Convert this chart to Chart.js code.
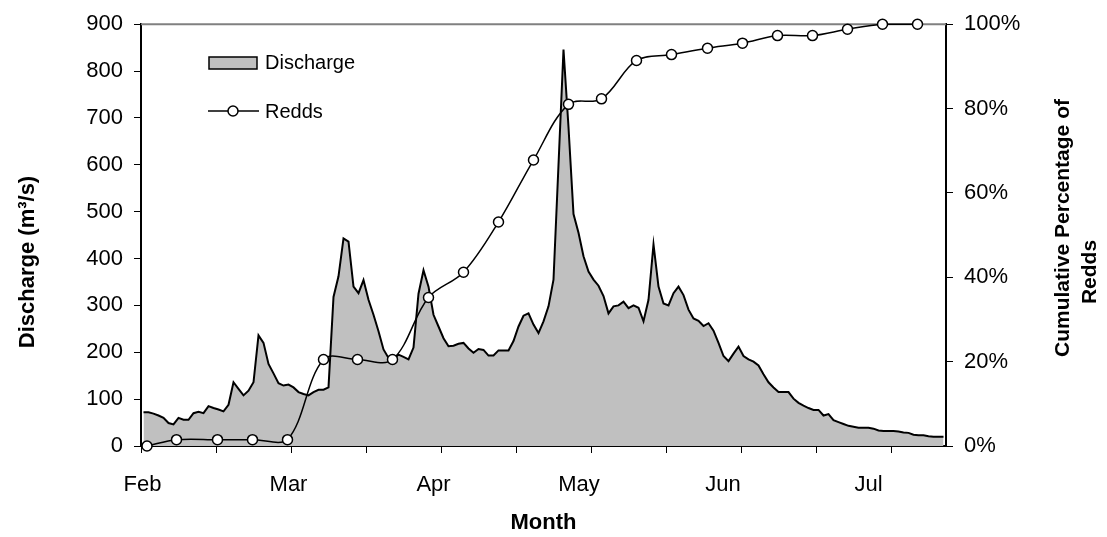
<!DOCTYPE html>
<html>
<head>
<meta charset="utf-8">
<script src="https://cdn.jsdelivr.net/npm/chart.js@4.4.1/dist/chart.umd.min.js"></script>
<style>
  html, body { margin: 0; padding: 0; background: #fff; }
</style>
</head>
<body>
<canvas id="chart" width="1107" height="537"></canvas>
<script>
// month labels and where they sit (days after 1 Feb)
const monthLabels = ["Feb", "Mar", "Apr", "May", "Jun", "Jul"];
const monthLabelDays = [0.3, 29.5, 58.5, 87.6, 116.4, 145.5];

// daily discharge (m3/s), first value on day 0.5
const dischargeStartDay = 0.5;
const dischargeValues = [
    72, 72, 69, 65, 60, 49, 46, 60, 56, 56,
    70, 73, 70, 85, 81, 78, 74, 88, 136, 122,
    108, 118, 136, 236, 220, 175, 155, 134, 129, 131,
    125, 115, 111, 108, 115, 120, 120, 125, 318, 362,
    443, 436, 340, 326, 354, 312, 280, 245, 206, 188,
    185, 195, 190, 185, 210, 325, 375, 340, 280, 255,
    230, 213, 214, 218, 220, 208, 199, 207, 205, 193,
    193, 204, 204, 204, 224, 255, 278, 283, 259, 241,
    266, 298, 355, 600, 846, 680, 495, 455, 405, 372,
    355, 342, 320, 283, 298, 300, 308, 294, 300, 295,
    266, 312, 430, 340, 304, 300, 326, 340, 322, 291,
    272, 267, 256, 262, 246, 220, 192, 181, 197, 212,
    192, 185, 180, 172, 153, 136, 125, 115, 115, 115,
    101, 92, 86, 81, 77, 77, 65, 68, 55, 51,
    47, 43, 41, 39, 39, 39, 37, 33, 32, 32,
    32, 31, 29, 28, 24, 23, 23, 21, 20, 20, 20
];

// weekly redd surveys: day and cumulative percentage
const reddDays = [1.2, 7.1, 15.3, 22.3, 29.3, 36.5, 43.3, 50.3, 57.5, 64.5, 71.5, 78.5,
    85.5, 92.1, 99.1, 106.1, 113.3, 120.3, 127.3, 134.3, 141.3, 148.3, 155.3];
const reddPercent = [0, 1.5, 1.5, 1.5, 1.5, 20.5, 20.5, 20.5, 35.2, 41.2, 53.1, 67.8,
    81.0, 82.3, 91.4, 92.8, 94.3, 95.5, 97.3, 97.3, 98.8, 100, 100];

const dischargeTicks = [0, 100, 200, 300, 400, 500, 600, 700, 800, 900];
const percentTicks = [0, 20, 40, 60, 80, 100];

const FONT = "'Liberation Sans', Arial, sans-serif";
Chart.defaults.font.family = FONT;
Chart.defaults.color = "#000";

const dischargeData = dischargeValues.map((v, i) => ({ x: dischargeStartDay + i, y: v }));
const reddData = reddDays.map((d, i) => ({ x: d, y: reddPercent[i] }));

// legend, frame top line and the two vertical titles
const decorations = {
    id: "decorations",
    beforeDatasetsDraw(chart) {
        const { ctx, chartArea } = chart;
        ctx.save();
        ctx.strokeStyle = "#808080";
        ctx.lineWidth = 2;
        ctx.beginPath();
        ctx.moveTo(chartArea.left, chartArea.top);
        ctx.lineTo(chartArea.right, chartArea.top);
        ctx.stroke();
        ctx.restore();
    },
    afterDraw(chart) {
        const { ctx, chartArea } = chart;
        const lx = chartArea.left + 68;
        ctx.save();

        // Discharge swatch
        ctx.fillStyle = "#C0C0C0";
        ctx.fillRect(lx, 57, 48, 12);
        ctx.strokeStyle = "#000";
        ctx.lineWidth = 1.5;
        ctx.strokeRect(lx, 57, 48, 12);

        // Redds swatch
        ctx.beginPath();
        ctx.moveTo(lx - 1, 111);
        ctx.lineTo(lx + 50, 111);
        ctx.stroke();
        ctx.beginPath();
        ctx.arc(lx + 24, 111, 5, 0, Math.PI * 2);
        ctx.fillStyle = "#fff";
        ctx.fill();
        ctx.stroke();

        ctx.fillStyle = "#000";
        ctx.font = "20px " + FONT;
        ctx.textBaseline = "middle";
        ctx.textAlign = "left";
        ctx.fillText("Discharge", lx + 56, 63);
        ctx.fillText("Redds", lx + 56, 112);

        // left title
        ctx.font = "bold 22px " + FONT;
        ctx.textAlign = "center";
        ctx.save();
        ctx.translate(28, 262);
        ctx.rotate(-Math.PI / 2);
        ctx.fillText("Discharge (m³/s)", 0, 0);
        ctx.restore();

        // right title
        ctx.font = "bold 21px " + FONT;
        ctx.save();
        ctx.translate(1063, 228);
        ctx.rotate(-Math.PI / 2);
        ctx.fillText("Cumulative Percentage of", 0, 0);
        ctx.restore();
        ctx.save();
        ctx.translate(1090, 272);
        ctx.rotate(-Math.PI / 2);
        ctx.fillText("Redds", 0, 0);
        ctx.restore();

        ctx.restore();
    }
};

new Chart(document.getElementById("chart"), {
    type: "line",
    data: {
        datasets: [
            {
                label: "Redds",
                data: reddData,
                yAxisID: "y1",
                xAxisID: "x",
                order: 0,
                borderColor: "#000",
                borderWidth: 1.5,
                tension: 0.35,
                fill: false,
                clip: false,
                pointRadius: 5,
                pointBackgroundColor: "#fff",
                pointBorderColor: "#000",
                pointBorderWidth: 1.5
            },
            {
                label: "Discharge",
                data: dischargeData,
                yAxisID: "y",
                xAxisID: "x",
                order: 1,
                borderColor: "#000",
                borderWidth: 2,
                backgroundColor: "#C0C0C0",
                fill: "origin",
                tension: 0,
                pointRadius: 0
            }
        ]
    },
    options: {
        responsive: false,
        animation: false,
        layout: { padding: { top: 19, left: 0, right: 0, bottom: 0 } },
        plugins: {
            legend: { display: false },
            tooltip: { enabled: false }
        },
        scales: {
            x: {
                type: "linear",
                position: "bottom",
                min: 0,
                max: 161,
                ticks: { display: false, stepSize: 15, includeBounds: false },
                grid: { drawOnChartArea: false, drawTicks: true, tickLength: 7, tickColor: "#000", lineWidth: 1 },
                border: { display: true, color: "#000", width: 2 },
                afterFit: s => { s.height = 7; }
            },
            x2: {
                type: "linear",
                position: "bottom",
                min: 0,
                max: 161,
                grid: { display: false, drawTicks: false },
                border: { display: false },
                afterBuildTicks: s => { s.ticks = monthLabelDays.map(v => ({ value: v })); },
                ticks: {
                    autoSkip: false,
                    maxRotation: 0,
                    padding: 19,
                    font: { size: 22 },
                    callback: (v, i) => monthLabels[i]
                },
                title: {
                    display: true,
                    text: "Month",
                    font: { size: 22, weight: "bold" },
                    padding: { top: 0, bottom: 1 }
                },
                afterFit: s => { s.height = 84; }
            },
            y: {
                type: "linear",
                position: "left",
                min: 0,
                max: 900,
                afterBuildTicks: s => { s.ticks = dischargeTicks.map(v => ({ value: v })); },
                ticks: { padding: 11, font: { size: 22 } },
                grid: { drawOnChartArea: false, tickLength: 7, tickColor: "#000" },
                border: { color: "#000", width: 2 },
                afterFit: s => { s.width = 141; }
            },
            y1: {
                type: "linear",
                position: "right",
                min: 0,
                max: 100,
                afterBuildTicks: s => { s.ticks = percentTicks.map(v => ({ value: v })); },
                ticks: { padding: 11, font: { size: 22 }, callback: v => v + "%" },
                grid: { drawOnChartArea: false, tickLength: 7, tickColor: "#000" },
                border: { color: "#000", width: 2 },
                afterFit: s => { s.width = 161; }
            }
        }
    },
    plugins: [decorations]
});
</script>
</body>
</html>
